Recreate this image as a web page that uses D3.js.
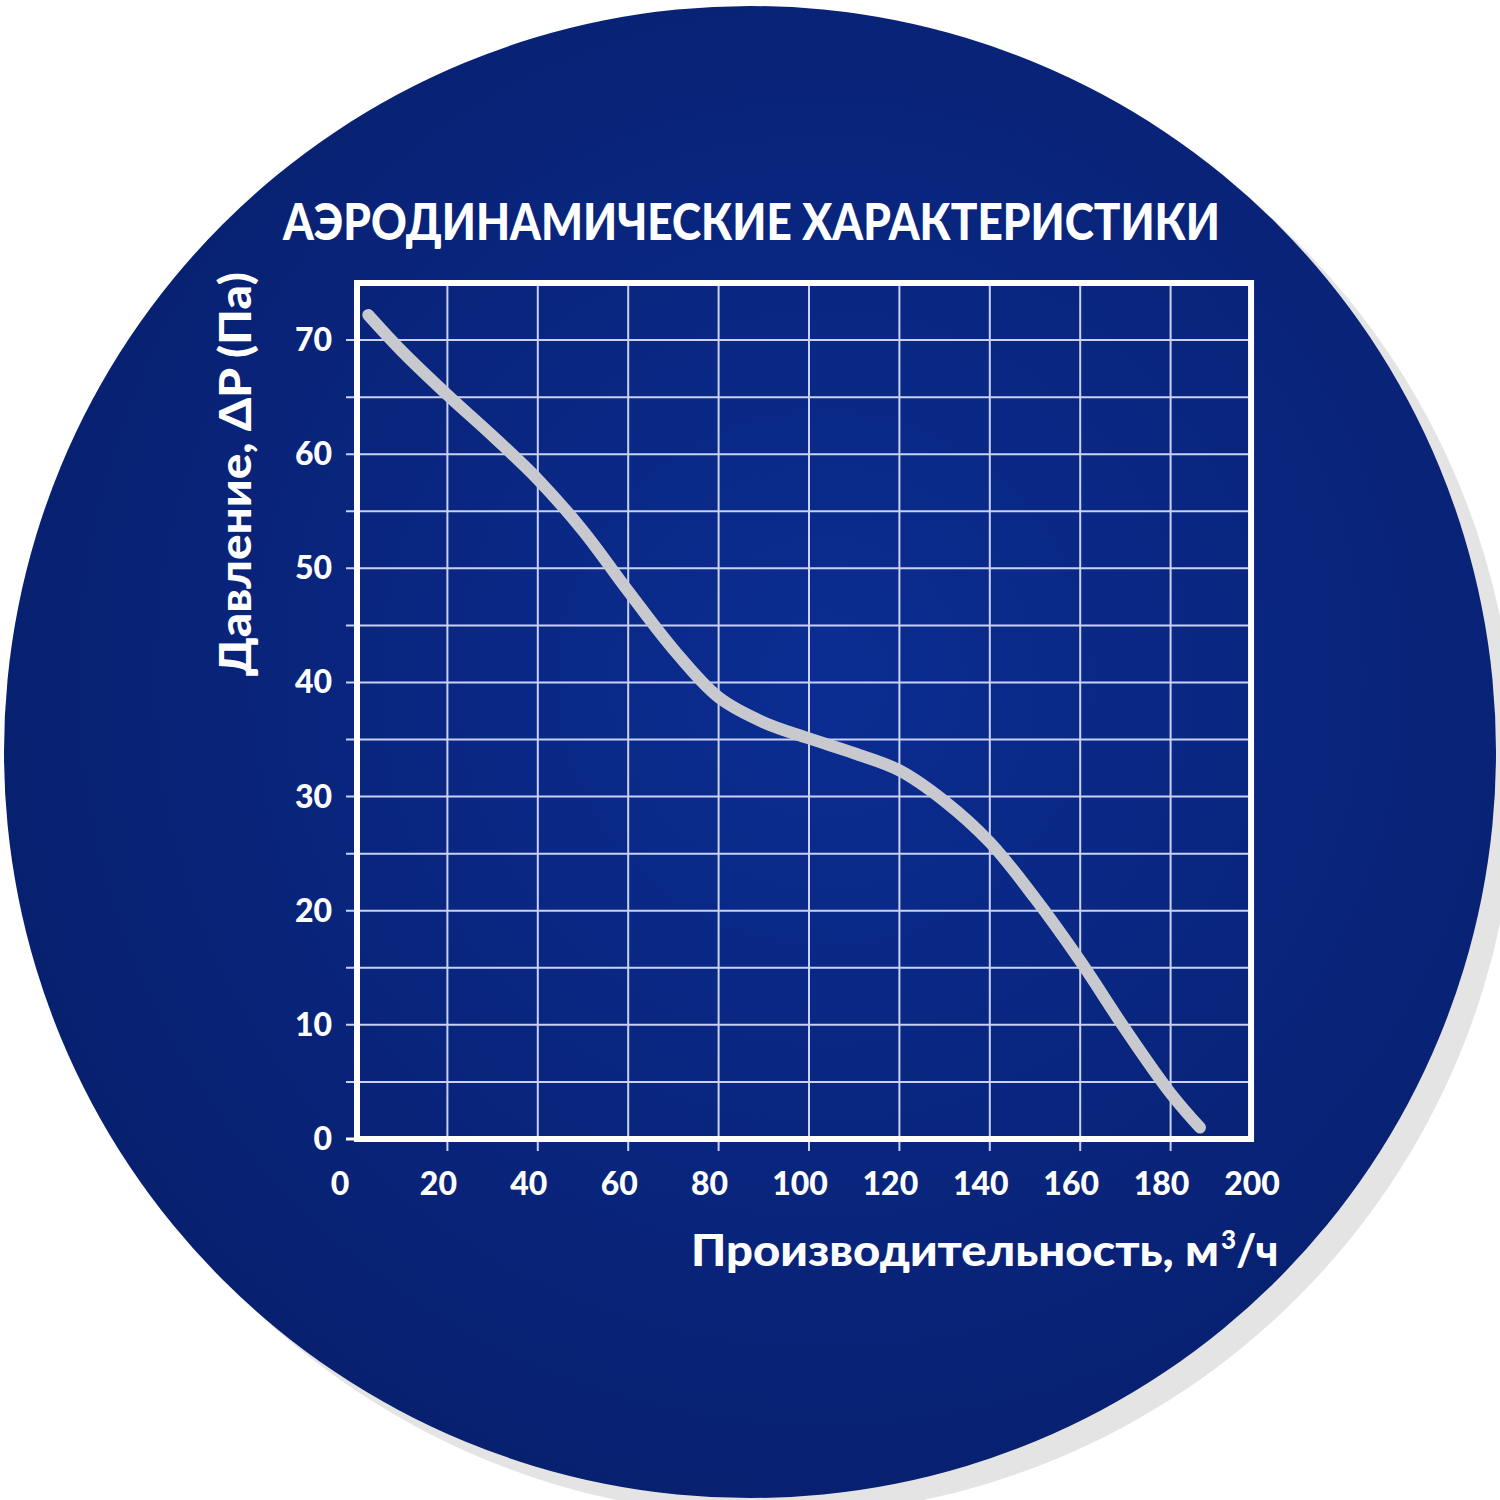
<!DOCTYPE html>
<html>
<head>
<meta charset="utf-8">
<script src="https://cdn.jsdelivr.net/npm/d3@7"></script>
<style>
  html, body { margin: 0; padding: 0; background: #fff; }
  svg { display: block; }
  text { font-family: Lato, "Open Sans", sans-serif; font-weight: 900; fill: #fff; }
</style>
</head>
<body>
<svg id="chart"></svg>
<script>
// flow rate, m3/h
const flow = [2.5, 10, 20, 30, 40, 50, 60, 70, 80, 90, 100, 110, 120, 130, 140, 150, 160, 170, 180, 186.5];
// pressure, Pa
const pressure = [72.2, 69.0, 65.2, 61.6, 57.8, 53.3, 48.0, 42.9, 38.7, 36.5, 35.1, 33.8, 32.3, 29.6, 26.0, 21.1, 15.6, 9.6, 4.0, 1.0];

const xTicks = [0, 20, 40, 60, 80, 100, 120, 140, 160, 180, 200];
const yTicks = [0, 10, 20, 30, 40, 50, 60, 70];
const yGrid = [5, 10, 15, 20, 25, 30, 35, 40, 45, 50, 55, 60, 65, 70];
const xGrid = [20, 40, 60, 80, 100, 120, 140, 160, 180];

const title = "АЭРОДИНАМИЧЕСКИЕ ХАРАКТЕРИСТИКИ";
const xTitle = "Производительность, м";
const yTitle = "Давление, ΔP (Па)";

const W = 1500, H = 1500;
const svg = d3.select("#chart").attr("width", W).attr("height", H);

// background disc with its grey shadow
const defs = svg.append("defs");
const grad = defs.append("radialGradient").attr("id", "bg")
    .attr("cx", "55%").attr("cy", "45%").attr("r", "60%");
grad.append("stop").attr("offset", "0%").attr("stop-color", "#0b2d92");
grad.append("stop").attr("offset", "100%").attr("stop-color", "#071f6d");

svg.append("circle").attr("cx", 770).attr("cy", 770).attr("r", 746).attr("fill", "#e4e4e4");
svg.append("circle").attr("cx", 750).attr("cy", 752).attr("r", 746).attr("fill", "url(#bg)");

// scales
const x = d3.scaleLinear().domain([0, 200]).range([357, 1261]);
const y = d3.scaleLinear().domain([0, 75]).range([1139, 283]);
const right = x(197.8);

const g = svg.append("g");

// grid
g.selectAll(".vgrid").data(xGrid).enter().append("line")
    .attr("x1", d => x(d)).attr("x2", d => x(d))
    .attr("y1", y(75)).attr("y2", y(0) + 12)
    .attr("stroke", "#c9d2f6").attr("stroke-width", 2);
g.selectAll(".hgrid").data(yGrid).enter().append("line")
    .attr("x1", x(0) - 11).attr("x2", right)
    .attr("y1", d => y(d)).attr("y2", d => y(d))
    .attr("stroke", "#c9d2f6").attr("stroke-width", 2);
g.append("line")
    .attr("x1", x(0) - 11).attr("x2", x(0))
    .attr("y1", y(0)).attr("y2", y(0))
    .attr("stroke", "#fff").attr("stroke-width", 3);

// frame
g.append("rect")
    .attr("x", x(0)).attr("y", y(75))
    .attr("width", right - x(0)).attr("height", y(0) - y(75))
    .attr("fill", "none").attr("stroke", "#fff").attr("stroke-width", 6);

// curve
const line = d3.line()
    .x(d => x(d[0])).y(d => y(d[1]))
    .curve(d3.curveCatmullRom.alpha(0.5));
g.append("path")
    .datum(flow.map((f, i) => [f, pressure[i]]))
    .attr("d", line)
    .attr("fill", "none")
    .attr("stroke", "#c8c9cf")
    .attr("stroke-width", 12)
    .attr("stroke-linecap", "round")
    .attr("stroke-linejoin", "round");

// tick labels
g.selectAll(".xl").data(xTicks).enter().append("text")
    .attr("x", d => x(d) - (d === 0 ? 17 : 9))
    .attr("y", 1195)
    .attr("text-anchor", "middle")
    .attr("font-size", 32)
    .text(d => d);
g.selectAll(".yl").data(yTicks).enter().append("text")
    .attr("x", 332)
    .attr("y", d => y(d) + 11)
    .attr("text-anchor", "end")
    .attr("font-size", 32)
    .text(d => d);

// titles
svg.append("text")
    .attr("x", 283).attr("y", 240)
    .attr("font-size", 52)
    .attr("textLength", 937).attr("lengthAdjust", "spacingAndGlyphs")
    .text(title);

const xt = svg.append("text")
    .attr("x", 691).attr("y", 1266)
    .attr("font-size", 43);
xt.append("tspan")
    .attr("textLength", 528).attr("lengthAdjust", "spacingAndGlyphs")
    .text(xTitle);
xt.append("tspan").attr("font-size", 26).attr("dx", 2).attr("dy", -17).text("3");
xt.append("tspan").attr("dy", 17).text("/ч");

svg.append("text")
    .attr("transform", "translate(251,676) rotate(-90)")
    .attr("font-size", 43)
    .attr("textLength", 404).attr("lengthAdjust", "spacingAndGlyphs")
    .text(yTitle);
</script>
</body>
</html>
